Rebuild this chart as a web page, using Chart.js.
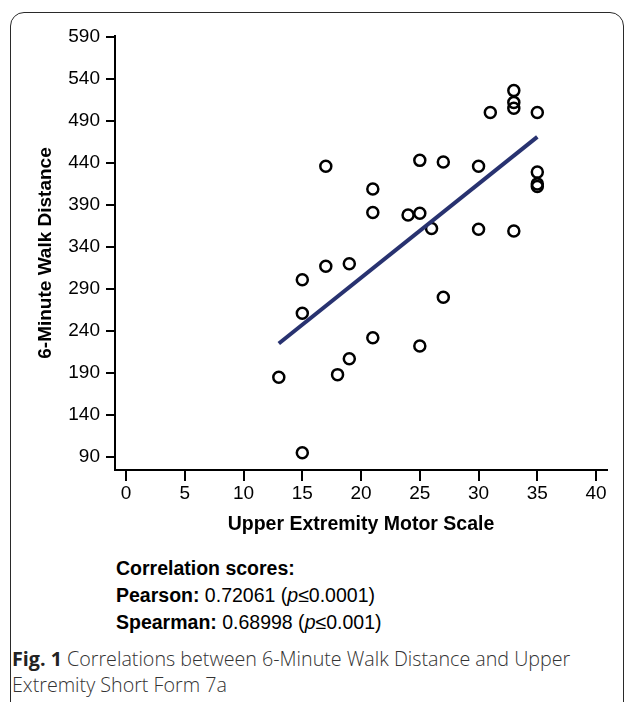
<!DOCTYPE html>
<html>
<head>
<meta charset="utf-8">
<script src="https://cdn.jsdelivr.net/npm/chart.js@4.4.1/dist/chart.umd.min.js"></script>
<style>
	html, body { margin: 0; padding: 0; background: #fff; overflow: hidden; }
	body { width: 627px; height: 702px; position: relative; }
	.frame {
		position: absolute; left: 10px; top: 12px; width: 612px; height: 740px;
		border: 1.5px solid #2a2a2a; border-radius: 14px;
	}
	#chart { position: absolute; left: 0; top: 0; }
	.scores {
		position: absolute; left: 116px; top: 555px;
		font: 19.5px "Liberation Sans", Arial, sans-serif; line-height: 27px; color: #000;
	}
	.caption {
		position: absolute; left: 12px; top: 646px;
		font: 300 19.7px "Open Sans", sans-serif; line-height: 26px; color: #333;
	}
	.caption b { color: #222; font-weight: 700; }
</style>
</head>
<body>
<div class="frame"></div>
<canvas id="chart" width="627" height="540"></canvas>
<div class="scores">
	<div><b>Correlation scores:</b></div>
	<div><b>Pearson:</b> 0.72061 (<i>p</i>≤0.0001)</div>
	<div><b>Spearman:</b> 0.68998 (<i>p</i>≤0.001)</div>
</div>
<div class="caption"><b>Fig. 1</b> Correlations between 6-Minute Walk Distance and Upper<br>Extremity Short Form 7a</div>

<script>
	// Upper Extremity Motor Scale (x) vs 6-Minute Walk Distance (y)
	var motorScale = [17, 33, 33, 33, 31, 35, 25, 27, 30, 21, 35, 35, 35, 21, 24,
		25, 26, 30, 33, 15, 17, 19, 15, 27, 21, 19, 18, 13, 25, 15];
	var walkDistance = [436, 526, 512, 505, 500, 500, 443, 441, 436, 409, 429, 415, 412, 381, 378,
		380, 362, 361, 359, 301, 317, 320, 261, 280, 232, 207, 188, 185, 222, 95];

	// Regression line end points
	var fitX = [13, 35];
	var fitY = [225, 471];

	// Tick labels
	var xTicks = [0, 5, 10, 15, 20, 25, 30, 35, 40];
	var yTicks = [90, 140, 190, 240, 290, 340, 390, 440, 490, 540, 590];

	var FONT = '"Liberation Sans", Arial, sans-serif';

	var points = motorScale.map(function (x, i) { return {x: x, y: walkDistance[i]}; });
	var fitLine = fitX.map(function (x, i) { return {x: x, y: fitY[i]}; });

	new Chart(document.getElementById('chart'), {
		type: 'scatter',
		data: {
			datasets: [
				{
					type: 'line',
					data: fitLine,
					borderColor: '#283270',
					borderWidth: 4,
					pointRadius: 0,
					fill: false
				},
				{
					data: points,
					pointRadius: 5.5,
					pointBorderWidth: 2.5,
					pointBorderColor: '#000',
					pointBackgroundColor: 'rgba(255,255,255,0)',
					pointHoverRadius: 5.5
				}
			]
		},
		options: {
			responsive: false,
			animation: false,
			devicePixelRatio: 1,
			layout: { padding: { left: 30, top: 36, right: 20, bottom: 0 } },
			plugins: { legend: { display: false }, tooltip: { enabled: false } },
			scales: {
				x: {
					type: 'linear',
					min: -0.94,
					max: 40.93,
					afterBuildTicks: function (s) { s.ticks = xTicks.map(function (v) { return {value: v}; }); },
					afterFit: function (s) { s.height = 70; },
					border: { color: '#000', width: 2 },
					grid: { drawOnChartArea: false, drawTicks: true, tickLength: 11, color: '#000', lineWidth: 2 },
					ticks: { color: '#000', padding: 1, font: { family: FONT, size: 19 } },
					title: {
						display: true,
						text: 'Upper Extremity Motor Scale',
						color: '#000',
						font: { family: FONT, size: 19.5, weight: 'bold' }
					}
				},
				y: {
					type: 'linear',
					min: 74.5,
					max: 591,
					afterBuildTicks: function (s) { s.ticks = yTicks.map(function (v) { return {value: v}; }); },
					afterFit: function (s) { s.width = 85; },
					border: { color: '#000', width: 2 },
					grid: { drawOnChartArea: false, drawTicks: true, tickLength: 9, color: '#000', lineWidth: 2 },
					ticks: { color: '#000', padding: 6, font: { family: FONT, size: 19 } },
					title: {
						display: true,
						text: '6-Minute Walk Distance',
						color: '#000',
						font: { family: FONT, size: 19, weight: 'bold' }
					}
				}
			}
		}
	});
</script>
</body>
</html>
